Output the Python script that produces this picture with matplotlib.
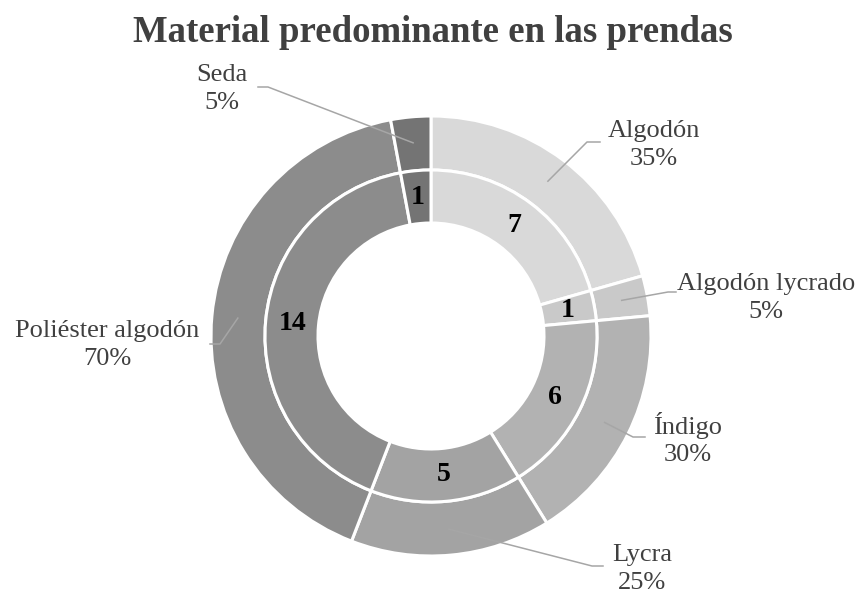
import numpy as np
import matplotlib.pyplot as plt

plt.rcParams['font.family'] = ['Liberation Serif', 'DejaVu Serif']

categorias = ["Algodón", "Algodón lycrado", "Índigo", "Lycra", "Poliéster algodón", "Seda"]
prendas = [7, 1, 6, 5, 14, 1]
porcentajes = [35, 5, 30, 25, 70, 5]
colores = ["#d9d9d9", "#c9c9c9", "#b2b2b2", "#a3a3a3", "#8c8c8c", "#747474"]

# label layout in pixels (x, y from top): text centre, line start, elbow
etiquetas = {
    "Algodón": ((654, 145), (600, 142), (587, 142)),
    "Algodón lycrado": ((766, 298), (676, 292), (668, 292)),
    "Índigo": ((688, 439), (645, 437), (633, 437)),
    "Lycra": ((642, 569), (603, 566), (592, 566)),
    "Poliéster algodón": ((107, 345), (210, 344), (220, 344)),
    "Seda": ((222, 89), (258, 87), (268, 87)),
}

W, H = 858, 595
fig = plt.figure(figsize=(W / 100, H / 100), dpi=100)
ax = fig.add_axes([0, 0, 1, 1])
cx, cy = 431, H - 336
r_out, r_mid, r_in = 220, 166, 113

outer, _ = ax.pie(porcentajes, radius=r_out, center=(cx, cy), startangle=90,
                  counterclock=False, colors=colores,
                  wedgeprops=dict(width=r_out - r_mid, edgecolor='white', linewidth=2.2))
total = sum(prendas)
inner, _, numeros = ax.pie(prendas, radius=r_mid, center=(cx, cy), startangle=90,
                           counterclock=False, colors=colores,
                           wedgeprops=dict(width=r_mid - r_in, edgecolor='white', linewidth=2.2),
                           autopct=lambda p: f"{p * total / 100:.0f}",
                           pctdistance=139 / r_mid,
                           textprops=dict(fontsize=20, fontweight='bold', color='black'))

for w, cat, pct in zip(outer, categorias, porcentajes):
    (tx, ty), (sx, sy), (ex, ey) = etiquetas[cat]
    ang = np.deg2rad((w.theta1 + w.theta2) / 2)
    px = cx + 194 * np.cos(ang)
    py = cy + 194 * np.sin(ang)
    ax.plot([sx, ex, px], [H - sy, H - ey, py], color='#a6a6a6', lw=1.1)
    ax.text(tx, H - ty, f"{cat}\n{pct}%", ha='center', va='center',
            multialignment='center', fontsize=19, color='#404040', linespacing=1.35)

ax.text(433, H - 32, "Material predominante en las prendas", ha='center', va='center',
        fontsize=26.5, fontweight='bold', color='#404040')

ax.set_xlim(0, W)
ax.set_ylim(0, H)
ax.set_aspect('equal')
ax.axis('off')
fig.savefig("out.png", dpi=100)
